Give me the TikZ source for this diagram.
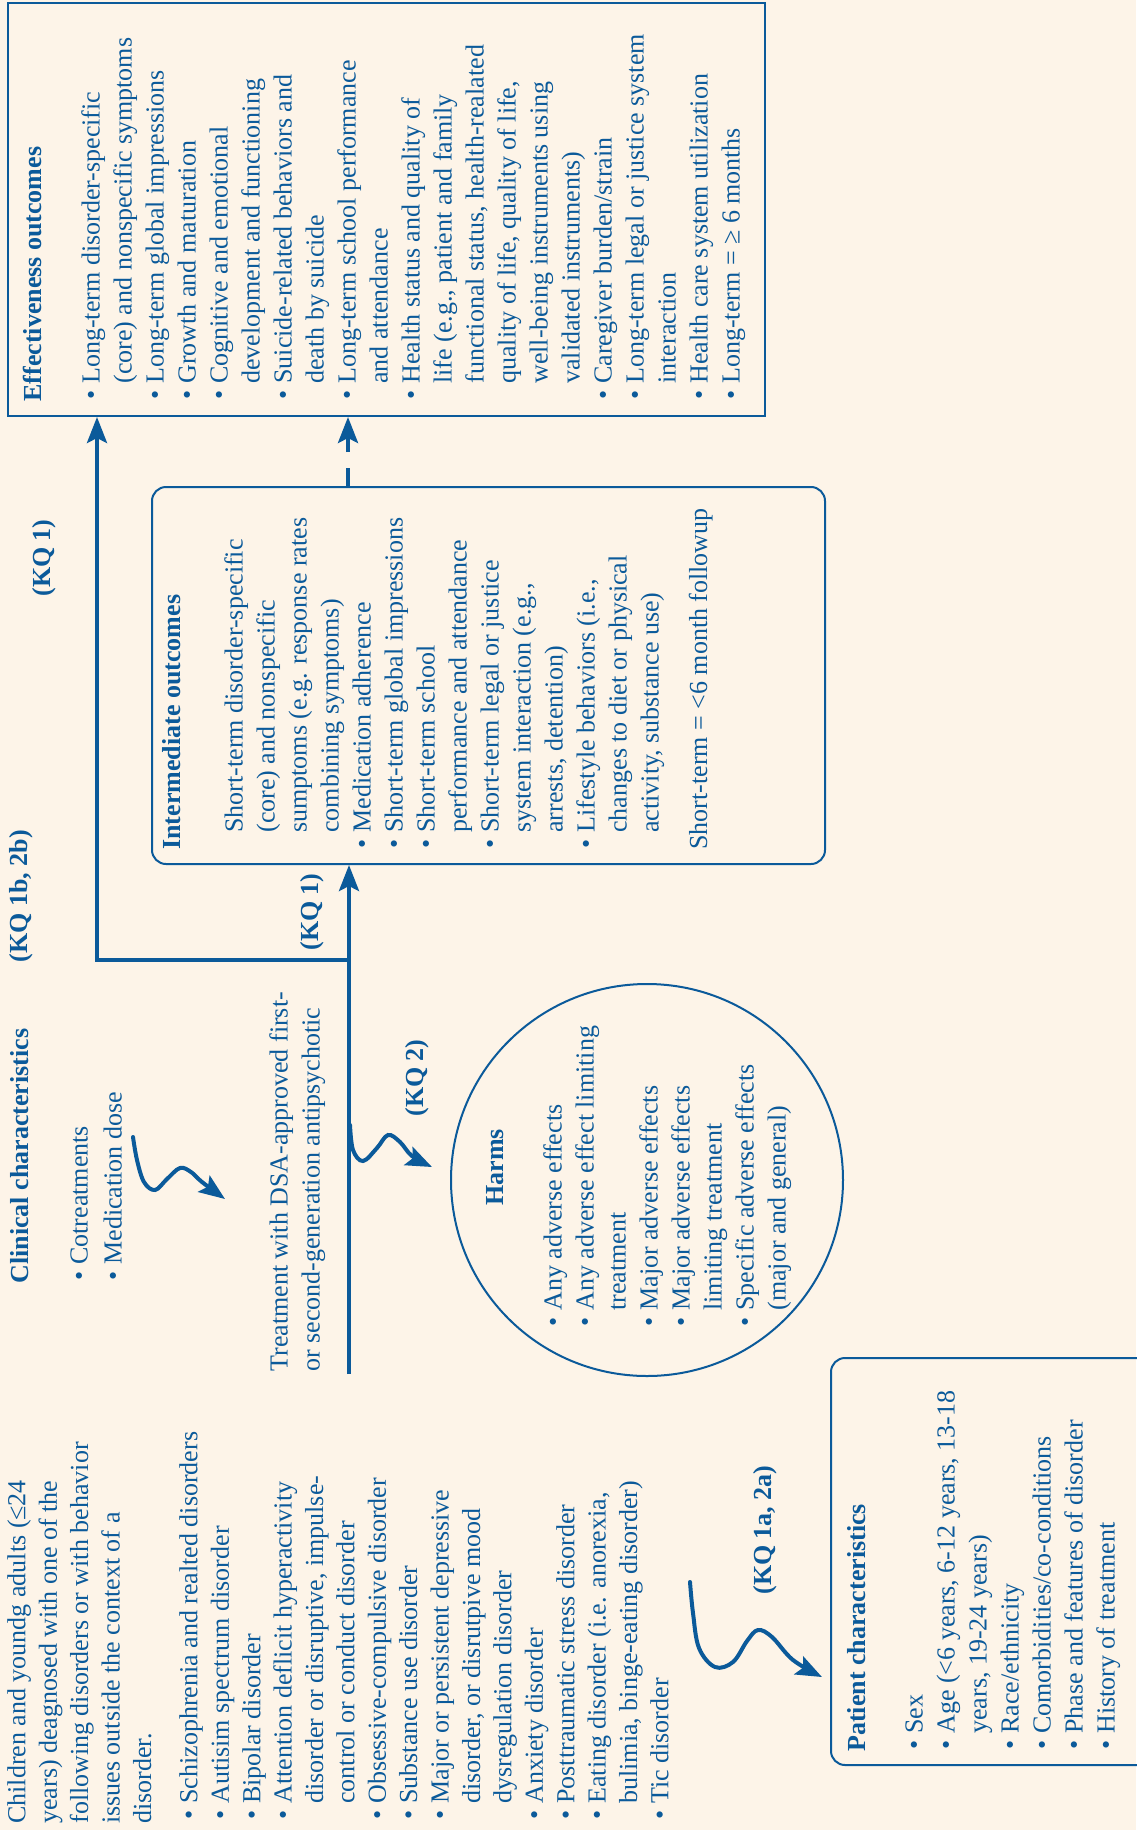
\documentclass[tikz,border=0pt]{standalone}
\usepackage{fontspec}
\setmainfont{Liberation Serif}
\usetikzlibrary{arrows.meta}
\definecolor{bg}{HTML}{FDF4E8}
\definecolor{ink}{HTML}{0B5A9A}
\newcommand{\bul}{\makebox[8pt][l]{\textbullet}}
\newcommand{\ind}{\hspace*{8pt}}
\tikzset{
  txt/.style={font=\fontsize{13}{16}\selectfont, text=ink, inner sep=0pt, align=left, anchor=north west},
  txtb/.style={txt, font=\fontsize{13}{15.7}\selectfont},
  ttl/.style={font=\bfseries\fontsize{13}{16}\selectfont, text=ink, inner sep=0pt, anchor=base west},
  kq/.style={font=\bfseries\fontsize{13}{16}\selectfont, text=ink, inner sep=0pt},
  framebox/.style={draw=ink, line width=1pt, inner sep=0pt},
  conn/.style={draw=ink, line width=2pt},
  tip/.style={-{Stealth[length=13pt,width=10pt,inset=2.5pt]}},
}
\begin{document}
\begin{tikzpicture}[x=0.5pt,y=0.5pt]
\useasboundingbox (0,0) rectangle (1136,-1830);
\fill[bg] (0,0) rectangle (1136,-1830);
\begin{scope}[shift={(1136,-1830)}, rotate=90, transform shape]
  % Effectiveness outcomes
  \node[framebox, minimum width=206.5pt, minimum height=378.5pt] (eff) at (1620.5,749.5) {};
  \node[ttl] (efft) at (1428,1095) {Effectiveness outcomes};
  \node[txt] (effl) at (1430,1055) {\bul Long-term disorder-specific\\
\ind (core) and nonspecific symptoms\\
\bul Long-term global impressions\\
\bul Growth and maturation\\
\bul Cognitive and emotional\\
\ind development and functioning\\
\bul Suicide-related behaviors and\\
\ind death by suicide\\
\bul Long-term school performance\\
\ind and attendance\\
\bul Health status and quality of\\
\ind life (e.g., patient and family\\
\ind functional status, health-realated\\
\ind quality of life, quality of life,\\
\ind well-being instruments using\\
\ind validated instruments)\\
\bul Caregiver burden/strain\\
\bul Long-term legal or justice system\\
\ind interaction\\
\bul Health care system utilization\\
\bul Long-term = ≥ 6 months};
  % Intermediate outcomes
  \node[framebox, rounded corners=7pt, minimum width=188.5pt, minimum height=336.5pt] (inter) at (1154.5,647.5) {};
  \node[ttl] (intt) at (980,956) {Intermediate outcomes};
  \node[txt] (interl) at (981,912) {\ind Short-term disorder-specific\\
\ind (core) and nonspecific\\
\ind sumptoms (e.g. response rates\\
\ind combining symptoms)\\
\bul Medication adherence\\
\bul Short-term global impressions\\
\bul Short-term school\\
\ind performance and attendance\\
\bul Short-term legal or justice\\
\ind system interaction (e.g.,\\
\ind arrests, detention)\\
\bul Lifestyle behaviors (i.e.,\\
\ind changes to diet or physical\\
\ind activity, substance use)};
  \node[txt, anchor=base west] (intn) at (980,429) {Short-term = <6 month followup};
  % Harms
  \node[draw=ink, line width=1pt, circle, minimum size=196pt, inner sep=0pt] (harms) at (650,489) {};
  \node[ttl] (harmt) at (624,633) {Harms};
  \node[txt] (harml) at (503,593) {\bul Any adverse effects\\
\bul Any adverse effect limiting\\
\ind treatment\\
\bul Major adverse effects\\
\bul Major adverse effects\\
\ind limiting treatment\\
\bul Specific adverse effects\\
\ind (major and general)};
  % Patient characteristics
  \node[framebox, rounded corners=7pt, minimum width=203.5pt, minimum height=172.5pt] (pat) at (268.5,132.5) {};
  \node[ttl] (patt) at (78,271) {Patient characteristics};
  \node[txt] (patl) at (80,231) {\bul Sex\\
\bul Age (<6 years, 6-12 years, 13-18\\
\ind years, 19-24 years)\\
\bul Race/ethnicity\\
\bul Comorbidities/co-conditions\\
\bul Phase and features of disorder\\
\bul History of treatment};
  % Population
  \node[txtb] (popp) at (6,1129) {Children and youndg adults (≤24\\
years) deagnosed with one of the\\
following disorders or with behavior\\
issues outside the context of a\\
disorder.};
  \node[txtb] (popl) at (10,957) {\bul Schizophrenia and realted disorders\\
\bul Autisim spectrum disorder\\
\bul Bipolar disorder\\
\bul Attention deflicit hyperactivity\\
\ind disorder or disruptive, impulse-\\
\ind control or conduct disorder\\
\bul Obsessive-compulsive disorder\\
\bul Substance use disorder\\
\bul Major or persistent depressive\\
\ind disorder, or disrutpive mood\\
\ind dysregulation disorder\\
\bul Anxiety disorder\\
\bul Posttraumatic stress disorder\\
\bul Eating disorder (i.e. anorexia,\\
\ind bulimia, binge-eating disorder)\\
\bul Tic disorder};
  % Clinical characteristics
  \node[ttl] (clint) at (546,1108) {Clinical characteristics};
  \node[txt, font=\fontsize{13}{17}\selectfont] (clinl) at (549,1066) {\bul Cotreatments\\
\bul Medication dose};
  % Treatment
  \node[txt] (treat) at (458,867) {Treatment with DSA-approved first-\\
or second-generation antipsychotic};
  % KQ labels
  \node[kq] (kqa) at (1272,1092) {(KQ 1)};
  \node[kq] (kqb) at (934,1115) {(KQ 1b, 2b)};
  \node[kq] (kqc) at (918,824) {(KQ 1)};
  \node[kq] (kqd) at (752,719) {(KQ 2)};
  \node[kq] (kqe) at (300,371) {(KQ 1a, 2a)};
  % connectors
  \coordinate (tstart) at (456,787);
  \coordinate (interin) at (965,787);
  \coordinate (junc) at (870,787);
  \coordinate (bend) at (870,1039);
  \coordinate (effin) at (1413,1039);
  \coordinate (dstart) at (1344,788);
  \coordinate (dend) at (1413,788);
  \draw[conn, tip] (tstart) -- (interin);
  \draw[conn, tip] (junc) -- (bend) -- (effin);
  \draw[conn, tip, dash pattern=on 9pt off 8pt] (dstart) -- (dend);
\end{scope}
% squiggly arrows (page coordinates)
\coordinate (sqa) at (350,-1125);
\coordinate (sqaend) at (432,-1167);
\draw[conn, tip, line cap=round] plot[smooth, tension=0.6] coordinates {(sqa) (353,-1150) (363,-1161) (377,-1148) (388,-1135) (400,-1142) (412,-1156) (sqaend)};
\coordinate (sqb) at (133,-1137);
\coordinate (sqbend) at (225,-1199);
\draw[conn, tip, line cap=round] plot[smooth, tension=0.6] coordinates {(sqb) (137,-1160) (144,-1182) (155,-1190) (167,-1179) (180,-1168) (191,-1172) (202,-1182) (sqbend)};
\coordinate (sqc) at (690,-1582);
\coordinate (sqcend) at (822,-1677);
\draw[conn, tip, line cap=round] plot[smooth, tension=0.6] coordinates {(sqc) (693,-1613) (699,-1648) (715,-1667) (733,-1662) (747,-1641) (758,-1630) (772,-1637) (793,-1660) (sqcend)};
\end{tikzpicture}
\end{document}
